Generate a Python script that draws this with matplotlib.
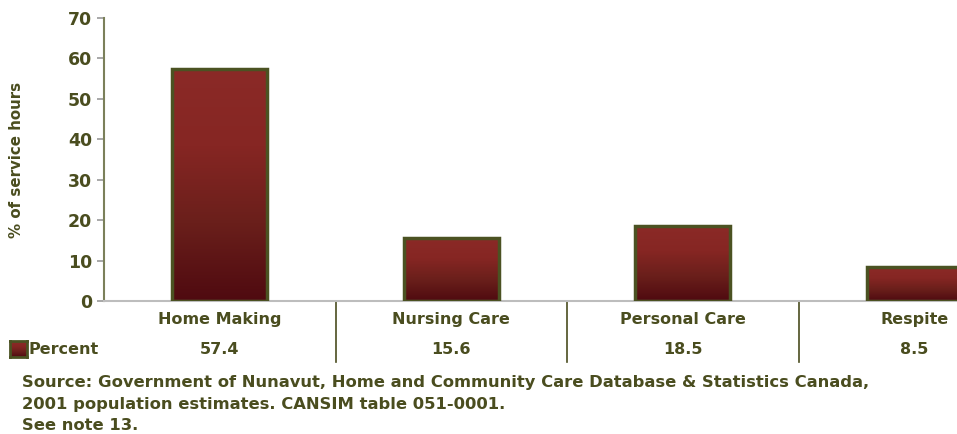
import numpy as np
import matplotlib.pyplot as plt
import matplotlib.transforms as mtransforms
from matplotlib.colors import LinearSegmentedColormap

# data
categories = ['Home Making', 'Nursing Care', 'Personal Care', 'Respite']
percent = [57.4, 15.6, 18.5, 8.5]
series_name = 'Percent'
source_lines = ['Source: Government of Nunavut, Home and Community Care Database & Statistics Canada,',
                '2001 population estimates. CANSIM table 051-0001.',
                'See note 13.']

txt_col = '#4a4d1f'
edge_col = '#4b5222'
grad = LinearSegmentedColormap.from_list('bar', ['#4f0a10', '#6a1f1b', '#862623', '#8b2a27'])

plt.rcParams['font.family'] = ['DejaVu Sans']
plt.rcParams['font.weight'] = 'bold'
plt.rcParams['axes.labelweight'] = 'bold'

fig = plt.figure(figsize=(9.57, 4.34), dpi=100)
ax = fig.add_axes([104 / 957, 133 / 434, 926 / 957, 283 / 434])

x = np.arange(len(categories))
width = 0.41
bars = ax.bar(x, percent, width, color='none', edgecolor=edge_col, linewidth=2.5, zorder=3)
g = np.linspace(0, 1, 256).reshape(-1, 1)
for b in bars:
    x0, y0 = b.get_x(), b.get_y()
    ax.imshow(g, cmap=grad, origin='lower', aspect='auto', zorder=2,
              extent=[x0, x0 + b.get_width(), y0, y0 + b.get_height()])

ax.set_xlim(-0.5, len(categories) - 0.5)
ax.set_ylim(0, 70)
ax.set_yticks(range(0, 71, 10))
ax.tick_params(axis='y', colors='#9a9a9a', labelcolor=txt_col, labelsize=12.5, length=5, width=1.2)
ax.set_xticks([])
for s in ['top', 'right']:
    ax.spines[s].set_visible(False)
ax.spines['left'].set_color('#7b805a')
ax.spines['left'].set_linewidth(1.5)
ax.spines['bottom'].set_color('#bdbdbd')
ax.spines['bottom'].set_linewidth(1.5)
ax.set_ylabel('% of service hours', color=txt_col, fontsize=10.8)
ax.yaxis.set_label_coords(-80 / 926, 0.5)

# data table below the axis
trans = mtransforms.blended_transform_factory(ax.transData, ax.transAxes)
for i, (c, v) in enumerate(zip(categories, percent)):
    ax.text(i, -0.065, c, transform=trans, ha='center', va='center', color=txt_col, fontsize=11.5)
    ax.text(i, -0.17, f'{v:.1f}', transform=trans, ha='center', va='center', color=txt_col, fontsize=11.5)
for i in range(len(categories) - 1):
    ax.plot([i + 0.5, i + 0.5], [0, -0.215], transform=trans, color=txt_col, lw=1.2, clip_on=False)

# legend key
kax = fig.add_axes([10 / 957, (434 - 357) / 434, 17 / 957, 16 / 434])
kax.imshow(g, cmap=grad, origin='lower', aspect='auto')
kax.set_xticks([])
kax.set_yticks([])
for s in kax.spines.values():
    s.set_color(edge_col)
    s.set_linewidth(2)
fig.text(29 / 957, 1 - 349 / 434, series_name, ha='left', va='center', color=txt_col, fontsize=11.5)

for k, line in enumerate(source_lines):
    fig.text(22 / 957, 1 - (382 + 22 * k) / 434, line, ha='left', va='center', color=txt_col, fontsize=11.8)

fig.savefig('out.png', dpi=100)
